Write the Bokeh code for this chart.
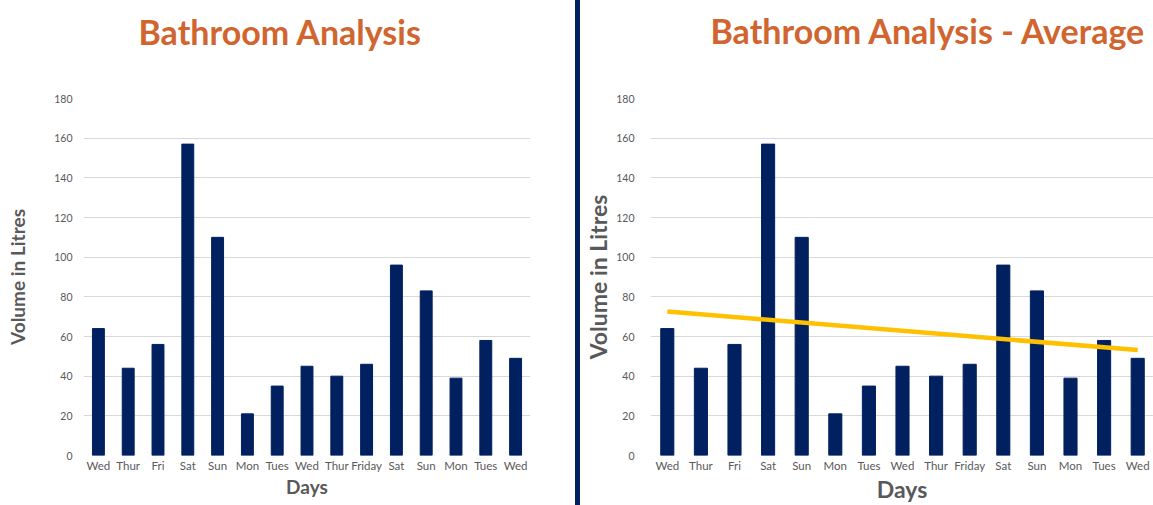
import numpy as np
from bokeh.plotting import figure
from bokeh.layouts import row
from bokeh.models import FixedTicker, Range1d, ColumnDataSource, Spacer, Title
from bokeh.embed import file_html
from bokeh.resources import INLINE

# ---- data ----
days = ["Wed", "Thur", "Fri", "Sat", "Sun", "Mon", "Tues", "Wed", "Thur",
        "Friday", "Sat", "Sun", "Mon", "Tues", "Wed"]
volumes = [64, 44, 56, 157, 110, 21, 35, 45, 40, 46, 96, 83, 39, 58, 49]
y_ticks = [0, 20, 40, 60, 80, 100, 120, 140, 160, 180]
title_left = "Bathroom Analysis"
title_right = "Bathroom Analysis - Average"
x_title = "Days"
y_title = "Volume in Litres"

# ---- styles ----
H = 505
BAR = "#002060"
TITLE_C = "#D0652F"
GRAY = "#595959"
GRID = "#D9D9D9"
FONT = "Lato"

pos = list(range(len(days)))
src = ColumnDataSource(dict(x=pos, top=volumes))


def make_fig(width, mbl, mbr, mbt, mbb, x_end, ystand, bar_w,
             lab_size, ylab_stand, title, t_off, gap):
    p = figure(width=width, height=H, output_backend="svg", toolbar_location=None,
               x_range=Range1d(-0.5, x_end), y_range=Range1d(0, 180),
               min_border_left=mbl, min_border_right=mbr,
               min_border_top=mbt, min_border_bottom=mbb)
    p.vbar(x="x", top="top", width=bar_w, source=src, color=BAR)
    p.outline_line_color = None
    p.xgrid.grid_line_color = None
    p.ygrid.grid_line_color = GRID
    p.ygrid.ticker = FixedTicker(ticks=y_ticks)
    p.yaxis.ticker = FixedTicker(ticks=y_ticks)
    p.xaxis.ticker = FixedTicker(ticks=pos)
    p.xaxis.major_label_overrides = {i: d for i, d in enumerate(days)}
    for ax in (p.xaxis, p.yaxis):
        ax.axis_line_color = None
        ax.major_tick_line_color = None
        ax.minor_tick_line_color = None
        ax.major_tick_out = 0
        ax.major_tick_in = 0
        ax.major_label_text_color = GRAY
        ax.major_label_text_font = FONT
        ax.axis_label_text_color = GRAY
        ax.axis_label_text_font = FONT
        ax.axis_label_text_font_style = "bold"
        ax.axis_label_text_font_size = lab_size
    p.xaxis.major_label_text_font_size = "11.5px"
    p.yaxis.major_label_text_font_size = "10.5px"
    p.yaxis.major_label_standoff = ystand
    p.xaxis.major_label_standoff = 3
    p.xaxis.axis_label = x_title
    p.yaxis.axis_label = y_title
    p.yaxis.axis_label_standoff = ylab_stand
    p.xaxis.axis_label_standoff = 0
    # empty spacer title between frame and chart title
    p.add_layout(Title(text=" ", text_font_size="1px", standoff=gap), "above")
    p.title = Title(text=title, text_font=FONT, text_font_style="bold",
                    text_font_size="34px", text_color=TITLE_C,
                    align="left", offset=t_off, standoff=0)
    return p


# left chart (frame: x 83..530, y 97..458)
p1 = make_fig(575, 83, 45, 97, 46, 14.5, 11, 0.4, "19px", 22,
              title_left, 55, 44)

# divider
div = Spacer(width=5, height=H, styles={"background-color": BAR})

# right chart with linear trend (frame: x 650..1153, y 98..459)
p2 = make_fig(573, 70, 0, 98, 46, 14.47, 16, 0.39, "23px", 1,
              title_right, 60, 45)
coef = np.polyfit(pos, volumes, 1)
trend_x = [pos[0], pos[-1]]
trend_y = [float(np.polyval(coef, v)) for v in trend_x]
p2.line(trend_x, trend_y, line_color="#FFC000", line_width=4.5)

layout = row(p1, div, p2)
open("out.html", "w").write(file_html(layout, INLINE))
